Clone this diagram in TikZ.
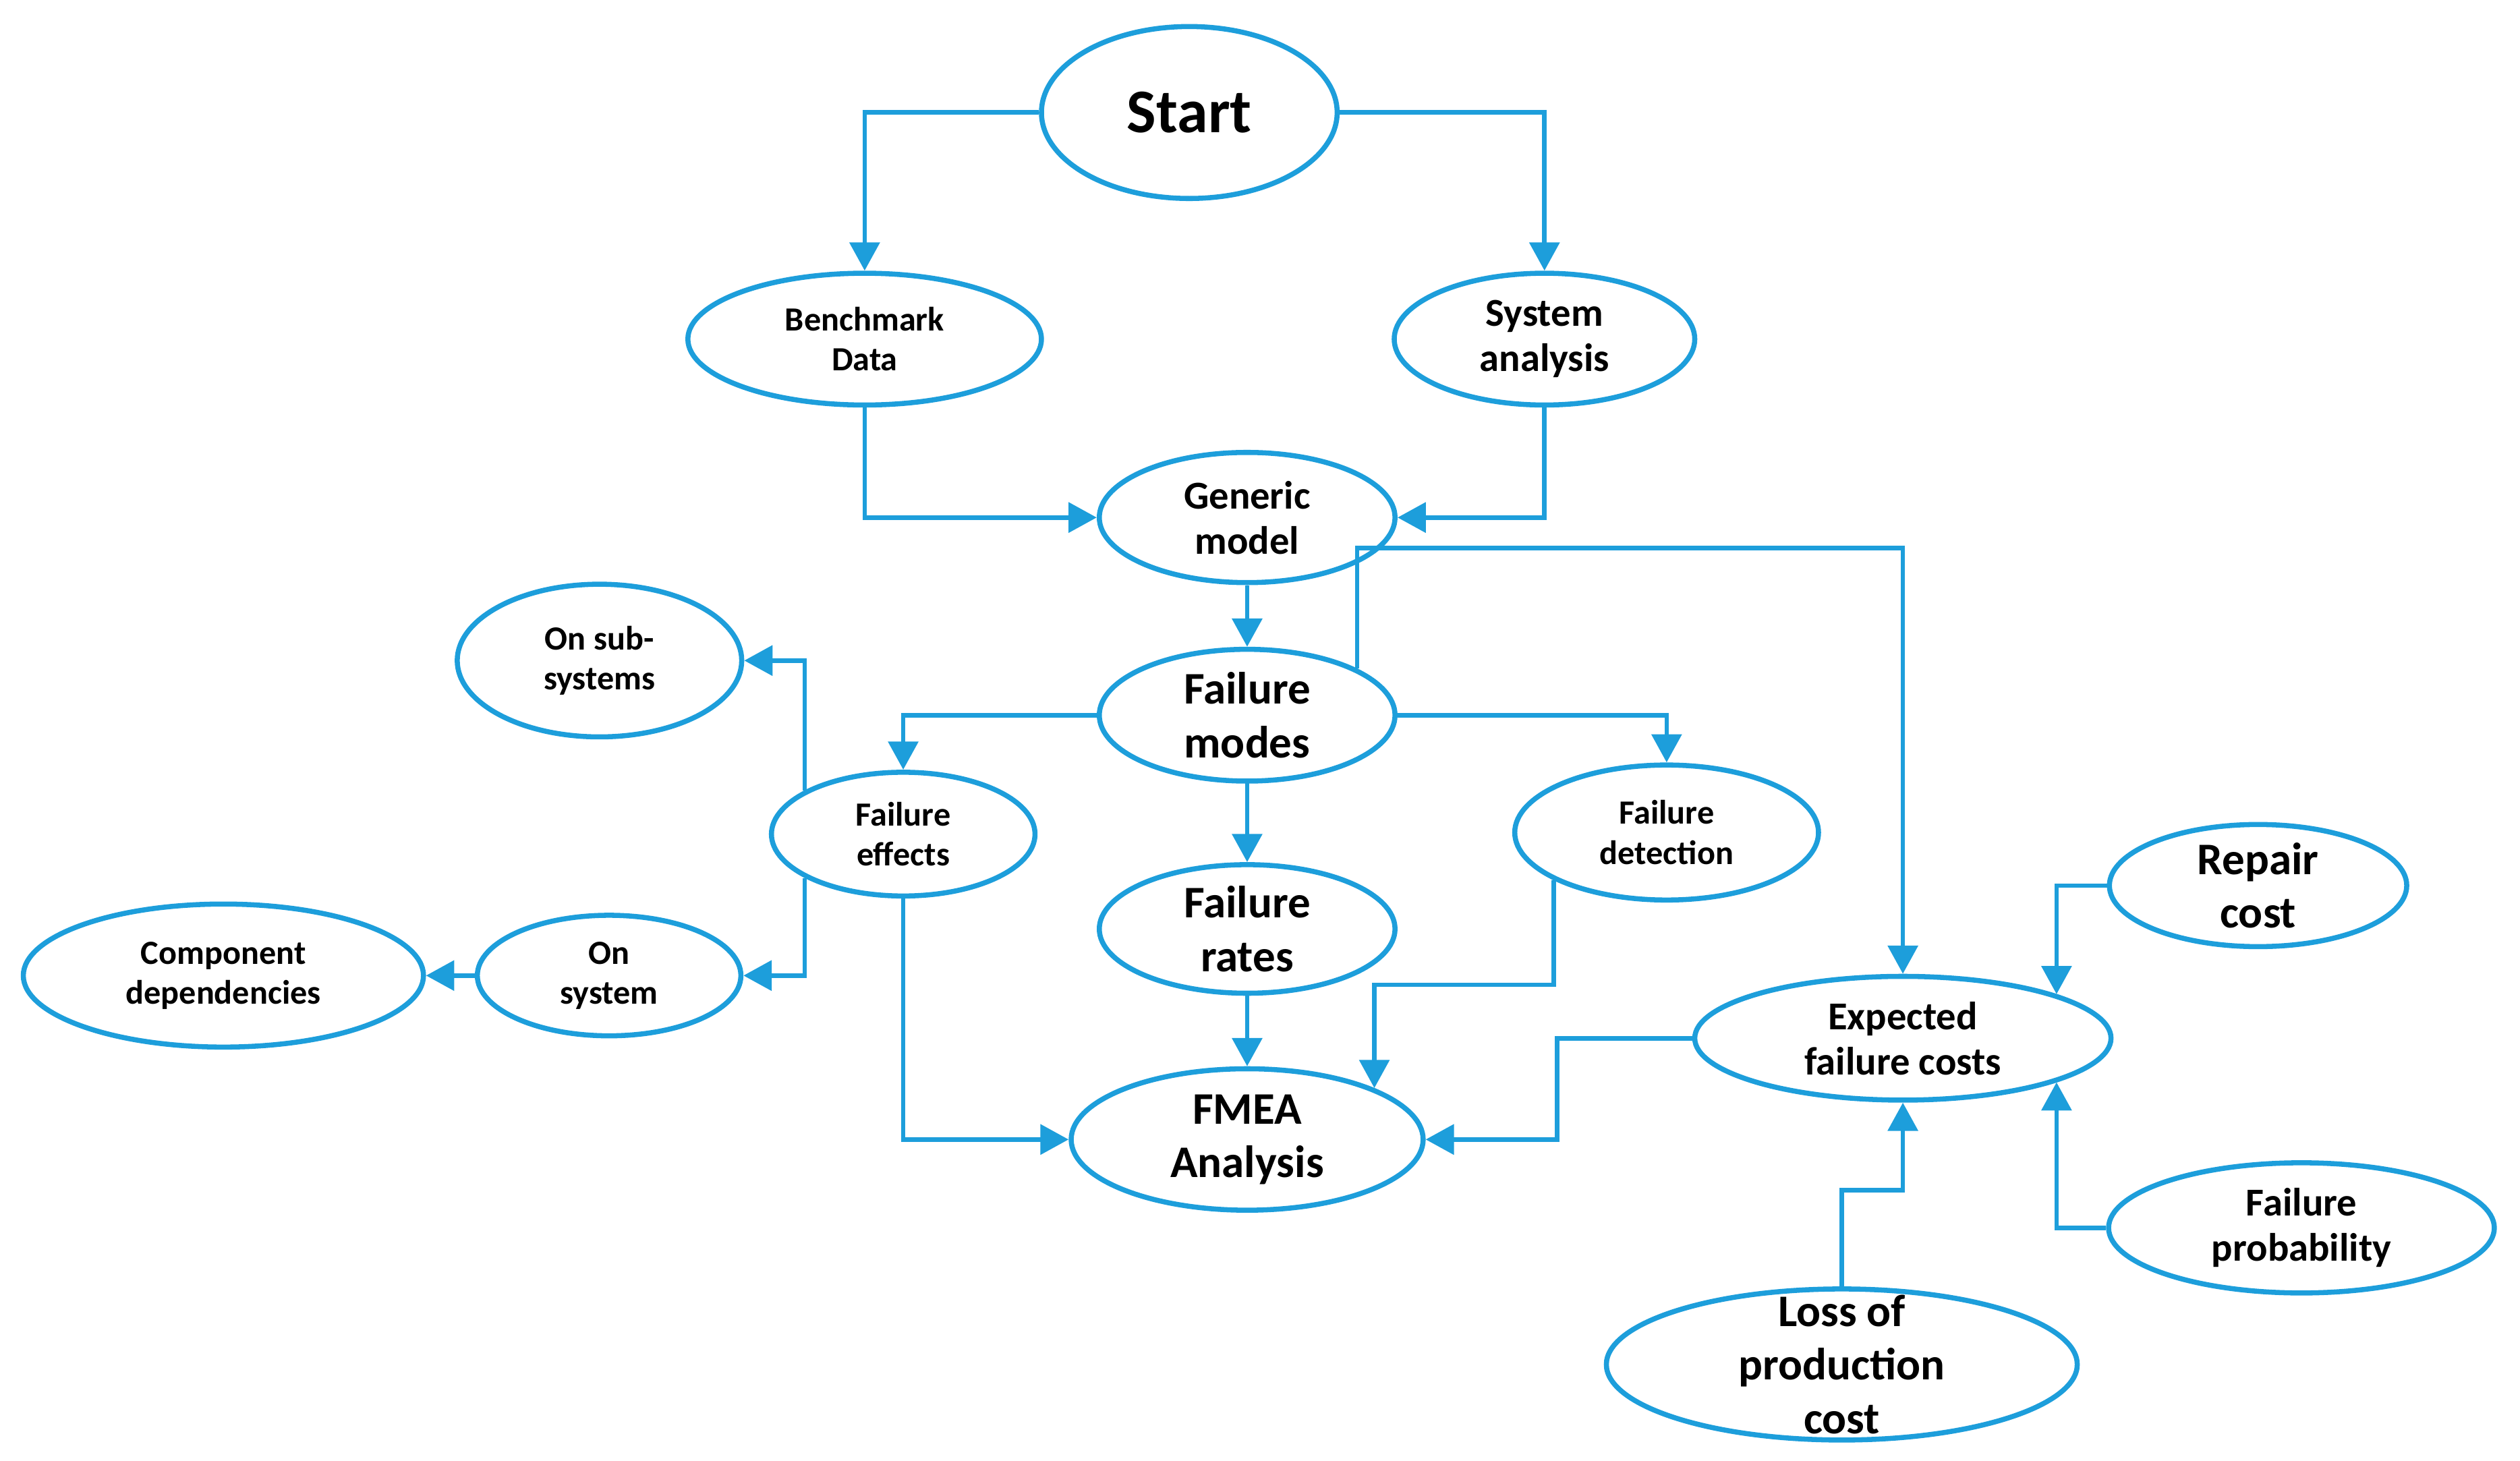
\documentclass[tikz,border=0pt]{standalone}
\usepackage{fontspec}
\setmainfont{Carlito}
\usetikzlibrary{shapes.geometric,arrows.meta}
\definecolor{fmblue}{RGB}{29,158,219}
\tikzset{
  bub/.style={ellipse, draw=fmblue, line width=1.8pt, inner sep=0pt},
  huge/.style={align=center, inner sep=0pt, font=\fontsize{22}{26}\selectfont\bfseries},
  big/.style={align=center, inner sep=0pt, font=\fontsize{16}{19}\selectfont\bfseries},
  mid/.style={align=center, inner sep=0pt, font=\fontsize{14}{16}\selectfont\bfseries},
  small/.style={align=center, inner sep=0pt, font=\fontsize{12}{14.2}\selectfont\bfseries},
  arr/.style={draw=fmblue, line width=1.6pt, -{Triangle[length=10pt,width=10.5pt]}}
}
\begin{document}
\begin{tikzpicture}
      \useasboundingbox (0,0) rectangle (31.36,-18.18);
      \node[bub, minimum width=3.68cm, minimum height=2.14cm, label={[huge]center:Start}] (start) at (14.8,-1.4) {};
      \node[bub, minimum width=4.4cm, minimum height=1.64cm, label={[small]center:Benchmark\\Data}] (bench) at (10.76,-4.22) {};
      \node[bub, minimum width=3.74cm, minimum height=1.64cm, label={[mid]center:System\\analysis}] (sysan) at (19.22,-4.22) {};
      \node[bub, minimum width=3.68cm, minimum height=1.62cm, label={[mid]center:Generic\\model}] (generic) at (15.52,-6.44) {};
      \node[bub, minimum width=3.68cm, minimum height=1.64cm, label={[big]center:Failure\\modes}] (fmodes) at (15.52,-8.9) {};
      \node[bub, minimum width=3.54cm, minimum height=1.9cm, label={[small]center:On sub-\\systems}] (onsub) at (7.46,-8.22) {};
      \node[bub, minimum width=3.28cm, minimum height=1.54cm, label={[small]center:Failure\\effects}] (feff) at (11.24,-10.38) {};
      \node[bub, minimum width=3.78cm, minimum height=1.68cm, label={[small]center:Failure\\detection}] (fdet) at (20.74,-10.36) {};
      \node[bub, minimum width=3.68cm, minimum height=1.6cm, label={[big]center:Failure\\rates}] (frates) at (15.52,-11.56) {};
      \node[bub, minimum width=4.98cm, minimum height=1.78cm, label={[small]center:Component\\dependencies}] (compdep) at (2.78,-12.14) {};
      \node[bub, minimum width=3.28cm, minimum height=1.5cm, label={[small]center:On\\system}] (onsys) at (7.58,-12.14) {};
      \node[bub, minimum width=4.38cm, minimum height=1.76cm, label={[big]center:FMEA\\Analysis}] (fmea) at (15.52,-14.18) {};
      \node[bub, minimum width=5.18cm, minimum height=1.54cm, label={[mid]center:Expected\\failure costs}] (efc) at (23.68,-12.92) {};
      \node[bub, minimum width=3.7cm, minimum height=1.52cm, label={[big]center:Repair\\cost}] (repair) at (28.1,-11.02) {};
      \node[bub, minimum width=4.8cm, minimum height=1.62cm, label={[mid]center:Failure\\probability}] (fprob) at (28.64,-15.28) {};
      \node[bub, minimum width=5.86cm, minimum height=1.88cm, label={[big]center:Loss of\\production\\cost}] (loss) at (22.92,-16.98) {};
      \begin{scope}[arr]
        \draw (start.west) -| (bench.north);
        \draw (start.east) -| (sysan.north);
        \draw (bench.south) |- (generic.west);
        \draw (sysan.south) |- (generic.east);
        \draw (generic) to (fmodes);
        \draw (fmodes.23) -- ++(0,1.5) -| (efc.north);
        \draw (fmodes.west) -| (feff.north);
        \draw (fmodes.east) -| (fdet.north);
        \draw (fmodes) to (frates);
        \draw (feff.156) |- (onsub.east);
        \draw (feff.204) |- (onsys.east);
        \draw (onsys) to (compdep);
        \draw (feff.south) |- (fmea.west);
        \draw (frates) to (fmea);
        \draw (fdet.203) -- ++(0,-1.3) -| (fmea.22);
        \draw (efc.west) -- ++(-1.68,0) |- (fmea.east);
        \draw (repair.west) -| (efc.16);
        \draw (fprob.west) -| (efc.-16);
        \draw (loss.north) -- ++(0,1.2) -| (efc.south);
      \end{scope}
    \end{tikzpicture}
\end{document}
